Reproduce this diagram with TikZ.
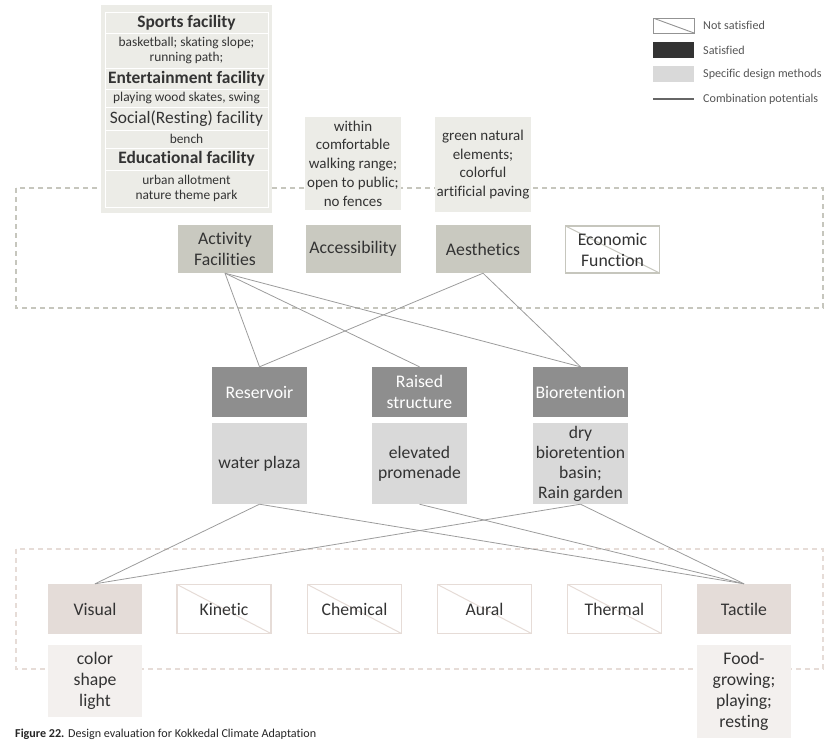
\documentclass[tikz,border=0pt]{standalone}
\usepackage{fontspec}
\setmainfont{Carlito}[Ligatures=NoCommon]
\definecolor{txt}{HTML}{333333}
\definecolor{critfill}{HTML}{C9C9C0}
\definecolor{critlight}{HTML}{ECECE7}
\definecolor{critline}{HTML}{C6C6BD}
\definecolor{midfill}{HTML}{8E8E8E}
\definecolor{midlight}{HTML}{D9D9D9}
\definecolor{senfill}{HTML}{E4DCD8}
\definecolor{senlight}{HTML}{F3F0EE}
\definecolor{senline}{HTML}{E6DCD7}
\definecolor{conn}{HTML}{9C9C9C}
\definecolor{legtxt}{HTML}{555555}
\tikzset{
  every node/.style={inner sep=0pt, align=center, text=txt},
  bigf/.style={font=\fontsize{17.7}{21}\selectfont},
  crit/.style={bigf, fill=critfill, minimum width=95pt, minimum height=48pt},
  critno/.style={bigf, draw=critline, line width=1.2pt, fill=white, minimum width=94pt, minimum height=47pt,
    path picture={\draw[critline, line width=1pt] (path picture bounding box.north west) -- (path picture bounding box.south east);}},
  critdesc/.style={font=\fontsize{15}{18.7}\selectfont, fill=critlight, minimum width=96pt},
  mid/.style={bigf, fill=midfill, text=white, minimum width=95pt, minimum height=50pt},
  middesc/.style={font=\fontsize{17.6}{20}\selectfont, fill=midlight, minimum width=95pt, minimum height=81pt},
  sen/.style={bigf, fill=senfill, minimum width=94pt, minimum height=50pt},
  senno/.style={bigf, draw=senline, line width=1.2pt, fill=white, minimum width=94pt, minimum height=49pt,
    path picture={\draw[senline, line width=1pt] (path picture bounding box.north west) -- (path picture bounding box.south east);}},
  sendesc/.style={font=\fontsize{17.7}{21}\selectfont, fill=senlight, minimum width=94pt},
  cell/.style={fill=critlight, draw=white, line width=1pt, minimum width=163pt},
  cellhead/.style={cell, font=\fontsize{17.4}{19}\selectfont\bfseries},
  cellheadr/.style={cell, font=\fontsize{17.4}{19}\selectfont},
  cellsmall/.style={cell, font=\fontsize{13.4}{15.5}\selectfont},
  link/.style={draw=conn, line width=0.8pt},
  zone/.style={line width=1.3pt, dash pattern=on 5pt off 4pt},
  legbox/.style={minimum width=41pt},
  legtext/.style={anchor=west, text=legtxt, font=\fontsize{12.1}{14}\selectfont},
}
\begin{document}
\begin{tikzpicture}[x=1pt, y=-1pt]
\useasboundingbox (0,0) rectangle (829,739);
% dashed zones
\draw[zone, draw=critline] (16,188) rectangle (823,308);
\draw[zone, draw=senline] (16,549) rectangle (823,669);

% facility panel
\node[fill=critlight, minimum width=171pt, minimum height=208pt] (facpanel) at (186.5,109) {};
\node[cellhead, minimum height=21pt] (sports) at (186.5,22.5) {Sports facility};
\node[cellsmall, minimum height=35pt] (sportsd) at (186.5,50.5) {basketball; skating slope;\\running path;};
\node[cellhead, minimum height=21pt] (ent) at (186.5,78.5) {Entertainment facility};
\node[cellsmall, minimum height=18pt] (entd) at (186.5,98) {playing wood skates, swing};
\node[cellheadr, minimum height=23pt] (soc) at (186.5,118.5) {Social(Resting) facility};
\node[cellsmall, minimum height=18pt] (socd) at (186.5,139) {bench};
\node[cellhead, minimum height=22pt] (edu) at (186.5,159) {Educational facility};
\node[cellsmall, minimum height=37pt] (edud) at (186.5,188.5) {urban allotment\\nature theme park};

% criteria
\node[crit] (act) at (225,249) {Activity\\Facilities};
\node[crit] (acc) at (353,249) {Accessibility};
\node[crit] (aes) at (483,249) {Aesthetics};
\node[critno] (eco) at (612.5,249.5) {Economic\\Function};
\node[critdesc, minimum height=93pt] (accd) at (353,163.5) {within\\comfortable\\walking range;\\open to public;\\no fences};
\node[critdesc, minimum height=95pt] (aesd) at (483,164.5) {green natural\\elements;\\colorful\\artificial paving};

% middle
\node[mid] (res) at (259.5,392) {Reservoir};
\node[mid] (rai) at (419.5,392) {Raised\\structure};
\node[mid] (bio) at (580.5,392) {Bioretention};
\node[middesc] (resd) at (259.5,463.5) {water plaza};
\node[middesc] (raid) at (419.5,463.5) {elevated\\promenade};
\node[middesc] (biod) at (580.5,463.5) {dry\\bioretention\\basin;\\Rain garden};

% senses
\node[sen] (vis) at (95,609) {Visual};
\node[senno] (kin) at (224,609) {Kinetic};
\node[senno] (che) at (354.5,609) {Chemical};
\node[senno] (aur) at (484.5,609) {Aural};
\node[senno] (the) at (614.5,609) {Thermal};
\node[sen] (tac) at (744,609) {Tactile};
\node[sendesc, minimum height=72pt] (visd) at (95,681) {color\\shape\\light};
\node[sendesc, minimum height=93pt] (tacd) at (744,691.5) {Food-\\growing;\\playing;\\resting};

% connectors
\draw[link] (act.south) -- (res.north);
\draw[link] (act.south) -- (rai.north);
\draw[link] (act.south) -- (bio.north);
\draw[link] (aes.south) -- (res.north);
\draw[link] (aes.south) -- (bio.north);
\draw[link] (resd.south) -- (vis.north);
\draw[link] (resd.south) -- (tac.north);
\draw[link] (raid.south) -- (tac.north);
\draw[link] (biod.south) -- (vis.north);
\draw[link] (biod.south) -- (tac.north);

% legend
\node[legbox, draw=gray!85, line width=1pt, minimum height=15pt, fill=white,
  path picture={\draw[gray!85, line width=0.9pt] (path picture bounding box.north west) -- (path picture bounding box.south east);}] (lg1) at (673.5,25.5) {};
\node[legbox, fill=black!80, minimum height=16pt] (lg2) at (673.5,50) {};
\node[legbox, fill=midlight, minimum height=16pt] (lg3) at (673.5,74) {};
\coordinate (lg4a) at (653,99);
\coordinate (lg4b) at (694,99);
\draw[draw=black!60, line width=1.1pt] (lg4a) -- (lg4b);
\node[legtext] (lt1) at (703,25.5) {Not satisfied};
\node[legtext] (lt2) at (703,50) {Satisfied};
\node[legtext] (lt3) at (703,74) {Specific design methods};
\node[legtext] (lt4) at (703,99) {Combination potentials};

% caption
\node[anchor=base west, font=\fontsize{12.1}{14}\selectfont, text=black!85] (cap) at (15,737.5) {\textbf{Figure 22.} Design evaluation for Kokkedal Climate Adaptation};
\end{tikzpicture}
\end{document}
